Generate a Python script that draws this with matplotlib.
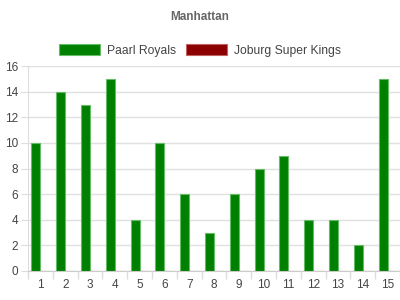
import matplotlib
matplotlib.use("Agg")
import matplotlib.pyplot as plt
import numpy as np

overs = [str(i) for i in range(1, 16)]
paarl_royals = [10, 14, 13, 15, 4, 10, 6, 3, 6, 8, 9, 4, 4, 2, 15]
joburg_super_kings = [0] * 15
yticks = [0, 2, 4, 6, 8, 10, 12, 14, 16]

plt.rcParams['font.family'] = ['Liberation Sans', 'DejaVu Sans']

fig = plt.figure(figsize=(4, 3), dpi=100)
ax = fig.add_axes([0.07, 0.0967, 0.93, 0.683])

x = np.arange(len(overs))
w = 0.36
ax.bar(x - w / 2, paarl_royals, width=w, color='#008000', edgecolor='#66bb66',
       linewidth=0.8, label='Paarl Royals', zorder=3)
ax.bar(x + w / 2, joburg_super_kings, width=w, color='#8b0000', edgecolor='#c06060',
       linewidth=0.8, label='Joburg Super Kings', zorder=3)

ax.set_xlim(-0.5, len(overs) - 0.5)
ax.set_ylim(0, 16)
ax.set_yticks(yticks)
ax.set_yticklabels([str(v) for v in yticks])
ax.set_xticks(x)
ax.set_xticklabels(overs)
ax.set_xticks(np.arange(-0.5, len(overs), 1), minor=True)
ax.tick_params(axis='x', which='major', length=0, pad=6, labelsize=8.5, labelcolor='#444444')
ax.tick_params(axis='x', which='minor', length=6, color='#dddddd', width=1)
ax.tick_params(axis='y', length=5, color='#dddddd', pad=2, labelsize=8.5, labelcolor='#444444')

ax.grid(axis='y', color='#e0e0e0', linewidth=1, zorder=0)
for s in ['top', 'right']:
    ax.spines[s].set_visible(False)
ax.spines['left'].set_color('#dddddd')
ax.spines['bottom'].set_color('#cccccc')

fig.text(0.5, 0.942, 'Manhattan', ha='center', va='center', fontsize=8.5,
         fontweight='bold', color='#666666')

leg = fig.legend(loc='center', bbox_to_anchor=(0.5, 0.833), ncol=2, frameon=False,
                 fontsize=8.7, handlelength=3.4, handleheight=1.1, handletextpad=0.6,
                 columnspacing=0.8, labelcolor='#444444')

fig.savefig('out.png', dpi=100)
